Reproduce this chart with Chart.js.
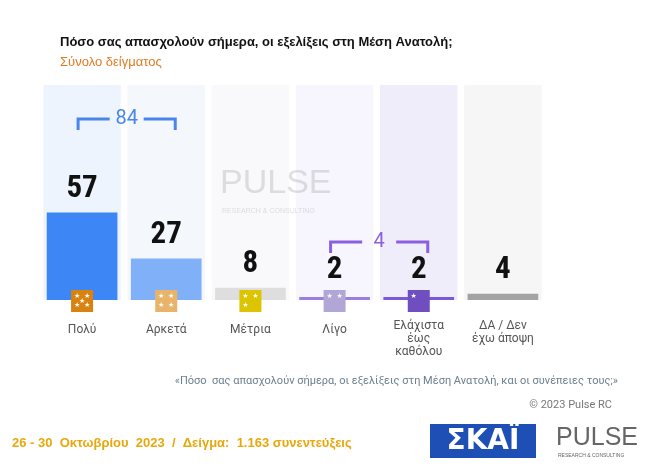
<!DOCTYPE html>
<html>
<head>
<meta charset="utf-8">
<script src="https://cdn.jsdelivr.net/npm/chart.js@4"></script>
<style>
  body { margin: 0; background: #fff; }
  #wrap { width: 650px; height: 467px; position: relative; }
</style>
</head>
<body>
<div id="wrap"><canvas id="c" width="650" height="467"></canvas></div>
<script>
// === Data ===
const categories = ["Πολύ", "Αρκετά", "Μέτρια", "Λίγο", "Ελάχιστα|έως|καθόλου", "ΔΑ / Δεν|έχω άποψη"];
const values = [57, 27, 8, 2, 2, 4];
const groupSums = [84, 4];
const backgroundMax = [140, 140, 140, 140, 140, 140];

const barColors = ["#3d86f5", "#80b0f8", "#dedede", "#9a7fe2", "#7a58d8", "#a3a3a3"];
const columnColors = ["#eef4fd", "#f4f7fc", "#f9f9fb", "#f7f5fd", "#efedfa", "#f6f6f7"];
const iconColors = ["#d9820f", "#e8b46a", "#dcc400", "#b2a6d6", "#6f4fbf", null];
const iconStars = [5, 4, 3, 2, 1, 0];

// === Plugin: texts, icons, brackets ===
const decor = {
  id: "decor",
  afterDatasetsDraw(chart) {
    const ctx = chart.ctx;
    const x = chart.scales.x, y = chart.scales.y;
    ctx.save();

    // value labels
    ctx.fillStyle = "#111";
    ctx.font = "bold 31px 'Roboto Condensed', 'Liberation Sans Narrow', 'DejaVu Sans Condensed', sans-serif";
    ctx.textAlign = "center";
    ctx.textBaseline = "bottom";
    values.forEach((v, i) => {
      const top = Math.min(y.getPixelForValue(v), y.getPixelForValue(0) - 6);
      ctx.fillText(v, x.getPixelForValue(i), top - 8);
    });

    // icons
    iconColors.forEach((c, i) => {
      if (!c) return;
      const cx = x.getPixelForValue(i), cy = y.getPixelForValue(0) + 1;
      ctx.fillStyle = c;
      ctx.fillRect(cx - 11, cy - 11, 22, 22);
      ctx.fillStyle = "#fff";
      ctx.font = "7px 'DejaVu Sans'";
      ctx.textBaseline = "middle";
      const n = iconStars[i];
      const pos = [[-5, -5], [5, -5], [-5, 4], [5, 4], [0, 0]].slice(0, n);
      pos.forEach(p => ctx.fillText("★", cx + p[0], cy + p[1]));
    });

    // category labels
    ctx.fillStyle = "#555";
    ctx.font = "12px Roboto, sans-serif";
    ctx.textBaseline = "middle";
    categories.forEach((c, i) => {
      const lines = c.split("|");
      const start = lines.length > 1 ? 326 : 330;
      lines.forEach((l, k) => ctx.fillText(l, x.getPixelForValue(i), start + k * 13));
    });

    // brackets
    function bracket(i0, i1, yTop, label, color) {
      const x0 = x.getPixelForValue(i0) - 4, x1 = x.getPixelForValue(i1) + 9;
      const mid = (x0 + x1) / 2;
      ctx.strokeStyle = color;
      ctx.fillStyle = color;
      ctx.lineWidth = 3;
      ctx.beginPath();
      ctx.moveTo(x0, yTop + 11); ctx.lineTo(x0, yTop); ctx.lineTo(mid - 17, yTop);
      ctx.moveTo(mid + 17, yTop); ctx.lineTo(x1, yTop); ctx.lineTo(x1, yTop + 11);
      ctx.stroke();
      ctx.font = "20px Roboto, sans-serif";
      ctx.textBaseline = "middle";
      ctx.fillText(label, mid, yTop);
    }
    bracket(0, 1, 119, String(groupSums[0]), "#4a86ea");
    bracket(3, 4, 242, String(groupSums[1]), "#8a5fe0");

    // watermark
    ctx.globalAlpha = 0.3;
    ctx.fillStyle = "#999";
    ctx.font = "34px 'Liberation Sans', sans-serif";
    ctx.textAlign = "left";
    ctx.fillText("PULSE", 220, 184);
    ctx.font = "7px 'Liberation Sans', sans-serif";
    ctx.fillText("RESEARCH & CONSULTING", 222, 211);
    ctx.globalAlpha = 1;

    // page texts
    ctx.textAlign = "left";
    ctx.fillStyle = "#111";
    ctx.font = "bold 13px 'Liberation Sans', Arial, sans-serif";
    ctx.fillText("Πόσο σας απασχολούν σήμερα, οι εξελίξεις στη Μέση Ανατολή;", 60, 42);
    ctx.fillStyle = "#e07b22";
    ctx.font = "13px 'Liberation Sans', Arial, sans-serif";
    ctx.fillText("Σύνολο δείγματος", 60, 62);

    ctx.textAlign = "right";
    ctx.fillStyle = "#6b7f8e";
    ctx.font = "11px Roboto, sans-serif";
    ctx.fillText("«Πόσο  σας απασχολούν σήμερα, οι εξελίξεις στη Μέση Ανατολή, και οι συνέπειες τους;»", 618, 381);
    ctx.fillStyle = "#777";
    ctx.fillText("© 2023 Pulse RC", 612, 405);

    ctx.textAlign = "left";
    ctx.fillStyle = "#e8a80c";
    ctx.font = "bold 13px 'Liberation Sans', Arial, sans-serif";
    ctx.fillText("26 - 30  Οκτωβρίου  2023  /  Δείγμα:  1.163 συνεντεύξεις", 12, 443);

    // logos
    ctx.fillStyle = "#1d4fb4";
    ctx.fillRect(430, 424, 106, 34);
    ctx.fillStyle = "#fff";
    ctx.font = "bold 28px 'DejaVu Sans', sans-serif";
    ctx.textAlign = "center";
    ctx.fillText("ΣΚΑΪ", 483, 442);
    ctx.fillStyle = "#666";
    ctx.font = "25px 'Liberation Sans', sans-serif";
    ctx.textAlign = "left";
    ctx.fillText("PULSE", 556, 438);
    ctx.font = "5px 'Liberation Sans', sans-serif";
    ctx.fillText("RESEARCH & CONSULTING", 558, 456);
    ctx.restore();
  }
};

new Chart(document.getElementById("c"), {
  type: "bar",
  data: {
    labels: categories,
    datasets: [
      { data: values, backgroundColor: barColors, barPercentage: 0.84, categoryPercentage: 1, grouped: false, order: 0 },
      { data: backgroundMax, backgroundColor: columnColors, barPercentage: 0.92, categoryPercentage: 1, grouped: false, order: 1 }
    ]
  },
  options: {
    responsive: false,
    animation: false,
    layout: { padding: { left: 40, right: 105, top: 85, bottom: 167 } },
    plugins: { legend: { display: false }, tooltip: { enabled: false } },
    scales: {
      x: { display: false },
      y: { display: false, min: 0, max: 140 }
    }
  },
  plugins: [decor]
});
</script>
</body>
</html>
